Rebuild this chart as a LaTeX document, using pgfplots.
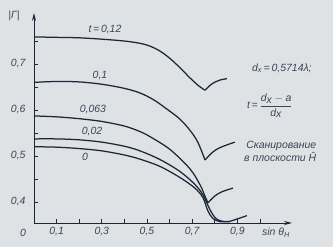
\documentclass[border=0pt]{standalone}
\usepackage{pgfplots}
\pgfplotsset{compat=1.18}
\usepackage{fontspec}
\setmainfont{Liberation Sans}
\usetikzlibrary{arrows.meta,backgrounds}
\definecolor{bg}{HTML}{DEE2E5}
\definecolor{ink}{HTML}{1C2636}
\definecolor{txt}{HTML}{3A4656}
\begin{document}
\begin{tikzpicture}[x=1bp,y=1bp,font=\fontsize{10.5}{12}\selectfont\itshape]
\begin{axis}[
  scale only axis,
  width=258bp, height=210bp,
  xmin=0, xmax=1.142, ymin=0.354, ymax=0.811,
  axis lines=left,
  axis line style={ink, line width=0.9bp, -{Stealth[length=8bp,width=4bp]}},
  clip=false,
  xtick={0.1,0.2,0.3,0.4,0.5,0.6,0.7,0.8,0.9,1.0},
  xticklabels={0{,}1,,0{,}3,,0{,}5,,0{,}7,,0{,}9,},
  ytick={0.4,0.45,0.5,0.55,0.6,0.65,0.7,0.75},
  yticklabels={0{,}4,,0{,}5,,0{,}6,,0{,}7,},
  tick align=inside,
  major tick length=4bp,
  tick style={ink, line width=0.7bp},
  ticklabel style={txt, font=\fontsize{10.5}{12}\selectfont\itshape},
  xticklabel style={yshift=-1bp},
  yticklabel style={xshift=-5bp},
  crv/.style={ink, line width=1.25bp, solid, no marks, smooth, tension=0.55},
]
% t = 0.12
\addplot[crv] coordinates {(0,0.759) (0.1,0.758) (0.2,0.757) (0.3,0.754) (0.4,0.750) (0.469,0.745) (0.513,0.739) (0.558,0.728) (0.602,0.712) (0.646,0.692) (0.690,0.670) (0.730,0.652) (0.757,0.643)};
\addplot[crv] coordinates {(0.757,0.643) (0.788,0.657) (0.823,0.665) (0.854,0.668)};
% t = 0.1
\addplot[crv] coordinates {(0,0.660) (0.1,0.662) (0.2,0.661) (0.3,0.656) (0.4,0.647) (0.469,0.637) (0.53,0.622) (0.588,0.602) (0.646,0.580) (0.690,0.556) (0.725,0.530) (0.757,0.491)};
\addplot[crv] coordinates {(0.757,0.491) (0.788,0.507) (0.823,0.518) (0.889,0.530)};
% t = 0.063
\addplot[crv] coordinates {(0,0.587) (0.1,0.585) (0.2,0.581) (0.3,0.575) (0.4,0.565) (0.469,0.553) (0.513,0.542) (0.602,0.514) (0.690,0.472) (0.735,0.437) (0.757,0.412) (0.770,0.398)};
\addplot[crv] coordinates {(0.770,0.398) (0.801,0.413) (0.832,0.422) (0.881,0.430)};
% t = 0.02
\addplot[crv] coordinates {(0,0.537) (0.1,0.537) (0.2,0.535) (0.3,0.530) (0.4,0.521) (0.469,0.511) (0.558,0.492) (0.646,0.466) (0.712,0.438) (0.748,0.415) (0.779,0.383) (0.801,0.366) (0.823,0.359) (0.858,0.357) (0.889,0.361) (0.942,0.370)};
% t = 0
\addplot[crv] coordinates {(0,0.520) (0.1,0.519) (0.2,0.516) (0.3,0.511) (0.4,0.502) (0.469,0.493) (0.558,0.477) (0.646,0.453) (0.712,0.430) (0.748,0.409) (0.770,0.380) (0.792,0.364) (0.823,0.357) (0.867,0.357)};
% curve labels
\node[txt] at (axis cs:0.314,0.776) {t\,=\,0,12};
\node[txt] at (axis cs:0.292,0.676) {0,1};
\node[txt] at (axis cs:0.261,0.600) {0,063};
\node[txt] at (axis cs:0.257,0.552) {0,02};
\node[txt] at (axis cs:0.226,0.498) {0};
% right texts
\node[txt] at (axis cs:1.097,0.691) {d\textsubscript{x}\,=\,0,5714λ;};
\node[txt] at (axis cs:1.044,0.609) {t\,=\,$\displaystyle\frac{\textit{d}_{\textit{x}}-\textit{a}}{\textit{d}_{\textit{x}}}$};
\node[txt, align=right, anchor=east, font=\fontsize{10.5}{10.5}\selectfont\itshape] at (axis cs:1.265,0.510) {Сканирование\\в плоскости Ĥ};
% axis labels
\node[txt] at (axis cs:1.071,0.354) [yshift=-10bp] {sin θ\textsubscript{H}};
\node[txt] at (axis cs:0,0.811) [xshift=-20bp, yshift=-3bp] {|Γ|};
\node[txt] at (axis cs:0,0.354) [xshift=-11bp, yshift=-10bp] {0};
\end{axis}
\begin{scope}[on background layer]
\fill[bg] (-34bp,-24bp) rectangle (299bp,223bp);
\end{scope}
\pgfresetboundingbox
\path[use as bounding box] (-34bp,-24bp) rectangle (299bp,223bp);
\end{tikzpicture}
\end{document}
